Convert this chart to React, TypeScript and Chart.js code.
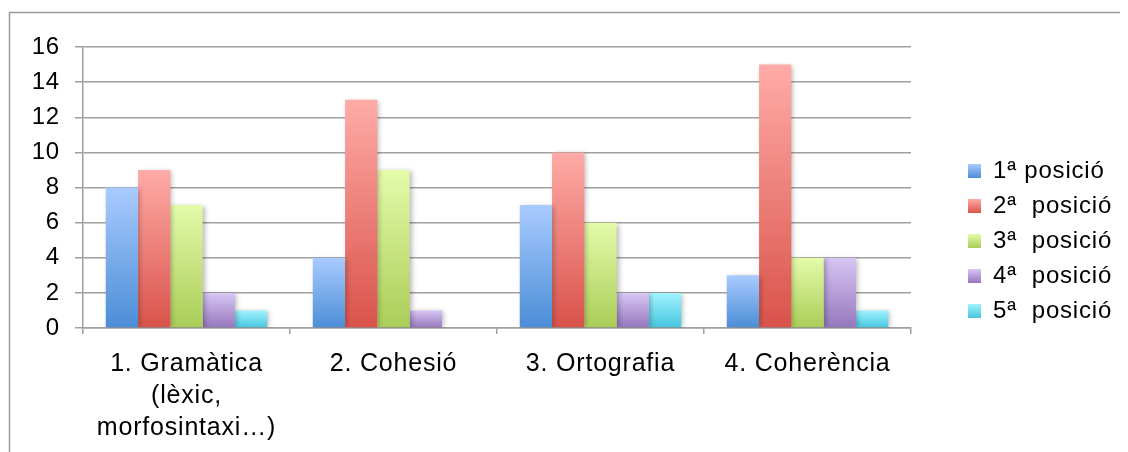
import React, { useEffect, useRef } from "react";
import { Chart, registerables } from "chart.js";

Chart.register(...registerables);

const categories: string[][] = [
  ["1. Gramàtica", "(lèxic,", "morfosintaxi…)"],
  ["2. Cohesió"],
  ["3. Ortografia"],
  ["4. Coherència"],
];
const seriesNames = ["1ª posició", "2ª  posició", "3ª  posició", "4ª  posició", "5ª  posició"];
const pos1 = [8, 4, 7, 3];
const pos2 = [9, 13, 10, 15];
const pos3 = [7, 9, 6, 4];
const pos4 = [2, 1, 2, 4];
const pos5 = [1, 0, 2, 1];
const yTicks = { min: 0, max: 16, step: 2 };

const gradients: [string, string, string][] = [
  ["#a9cbff", "#4b8dd6", "#7aaceb"],
  ["#ffaba7", "#d9534a", "#ec7f78"],
  ["#e4fbaa", "#aacd58", "#c8e582"],
  ["#d8c6f3", "#9577bd", "#b69fd9"],
  ["#a2f3ff", "#45c5de", "#72dcee"],
];

const FONT = "'Liberation Sans', Arial, sans-serif";
const SPACING = "0.8px";
const LEGEND_TOP = 40;
const LEGEND_BOTTOM = 426;
const LEGEND_FONT = 24;
const LEGEND_PAD = 11;
const LEGEND_BOX_H = 14;

export default function App() {
  const ref = useRef<HTMLCanvasElement | null>(null);
  useEffect(() => {
    if (!ref.current) return;
    const seriesValues = [pos1, pos2, pos3, pos4, pos5];
    const makeBg = (si: number) => (ctx: any) => {
      const [top, bottom, mid] = gradients[si];
      if (ctx.type !== "data") return mid;
      const chart = ctx.chart;
      const y = chart.scales?.y;
      if (!y || !chart.chartArea) return mid;
      const v = ctx.raw as number;
      const y0 = y.getPixelForValue(0);
      const y1 = y.getPixelForValue(v);
      if (!isFinite(y0) || !isFinite(y1) || y0 === y1) return mid;
      const g = chart.ctx.createLinearGradient(0, y1, 0, y0);
      g.addColorStop(0, top);
      g.addColorStop(1, bottom);
      return g;
    };
    const spacingPlugin = {
      id: "spacing",
      beforeUpdate(chart: any) {
        (chart.ctx as any).letterSpacing = SPACING;
      },
      beforeLayout(chart: any) {
        (chart.ctx as any).letterSpacing = SPACING;
      },
      afterLayout(chart: any) {
        const lg = chart.legend;
        if (lg) {
          lg.top = LEGEND_TOP;
          lg.bottom = LEGEND_BOTTOM;
        }
      },
      beforeDraw(chart: any) {
        (chart.ctx as any).letterSpacing = SPACING;
        const c = chart.ctx;
        c.save();
        c.strokeStyle = "#9a9a9a";
        c.lineWidth = 1.5;
        c.beginPath();
        c.moveTo(1.5, chart.height);
        c.lineTo(1.5, 4.5);
        c.lineTo(chart.width, 4.5);
        c.stroke();
        c.restore();
      },
    };
    const shadowPlugin = {
      id: "barShadow",
      beforeDatasetsDraw(chart: any) {
        const c = chart.ctx;
        c.save();
        c.shadowColor = "rgba(0,0,0,0.28)";
        c.shadowBlur = 5;
        c.shadowOffsetX = 2;
        c.shadowOffsetY = 1;
      },
      afterDatasetsDraw(chart: any) {
        chart.ctx.restore();
      },
    };
    const defaultGen = (Chart as any).defaults.plugins.legend.labels.generateLabels;
    const chart = new Chart(ref.current, {
      type: "bar",
      data: {
        labels: categories,
        datasets: seriesNames.map((name, i) => ({
          label: name,
          data: seriesValues[i],
          backgroundColor: makeBg(i),
          borderWidth: 0,
          categoryPercentage: 0.78,
          barPercentage: 1,
        })),
      },
      options: {
        animation: false,
        responsive: false,
        devicePixelRatio: 1,
        layout: { padding: { top: 39, bottom: 0, left: 0, right: 0 } },
        scales: {
          x: {
            grid: {
              drawOnChartArea: false,
              drawTicks: true,
              tickLength: 6,
              color: "#a0a0a0",
              lineWidth: 1.5,
            },
            border: { display: true, color: "#a0a0a0", width: 1.5 },
            ticks: {
              color: "#000",
              padding: 14,
              maxRotation: 0,
              font: { family: FONT, size: 25, lineHeight: 1.28 },
            },
            afterFit(scale: any) {
              scale.height = 124;
            },
          },
          y: {
            min: yTicks.min,
            max: yTicks.max,
            ticks: {
              stepSize: yTicks.step,
              color: "#000",
              padding: 15,
              font: { family: FONT, size: 24 },
            },
            grid: { color: "#a0a0a0", lineWidth: 1.5, tickLength: 8 },
            border: { display: true, color: "#a0a0a0", width: 1.5 },
            afterFit(scale: any) {
              scale.width = 75;
            },
          },
          gap: {
            type: "linear",
            position: "right",
            display: true,
            grid: { display: false },
            border: { display: false },
            ticks: { display: false },
            afterFit(scale: any) {
              scale.width = 46;
            },
          },
        },
        plugins: {
          legend: {
            position: "right",
            align: "center",
            maxWidth: 163,
            labels: {
              boxWidth: 13,
              boxHeight: LEGEND_BOX_H,
              padding: LEGEND_PAD,
              color: "#000",
              font: { family: FONT, size: LEGEND_FONT },
              generateLabels(ch: any) {
                const items = defaultGen(ch);
                const rowH = LEGEND_FONT + LEGEND_PAD;
                const colH = items.length * rowH;
                const startY = (LEGEND_TOP + LEGEND_PAD + LEGEND_BOTTOM - colH) / 2;
                return items.map((it: any, i: number) => {
                  const top = startY + i * rowH + (LEGEND_FONT - LEGEND_BOX_H) / 2;
                  const g = ch.ctx.createLinearGradient(0, top, 0, top + LEGEND_BOX_H);
                  const [c0, c1] = gradients[it.datasetIndex];
                  g.addColorStop(0, c0);
                  g.addColorStop(1, c1);
                  return { ...it, fillStyle: g, lineWidth: 0, strokeStyle: "rgba(0,0,0,0)" };
                });
              },
            },
          },
          tooltip: { enabled: false },
        },
      },
      plugins: [spacingPlugin, shadowPlugin],
    } as any);
    return () => chart.destroy();
  }, []);
  return <canvas ref={ref} width={1112} height={444} style={{ display: "block" }} />;
}
